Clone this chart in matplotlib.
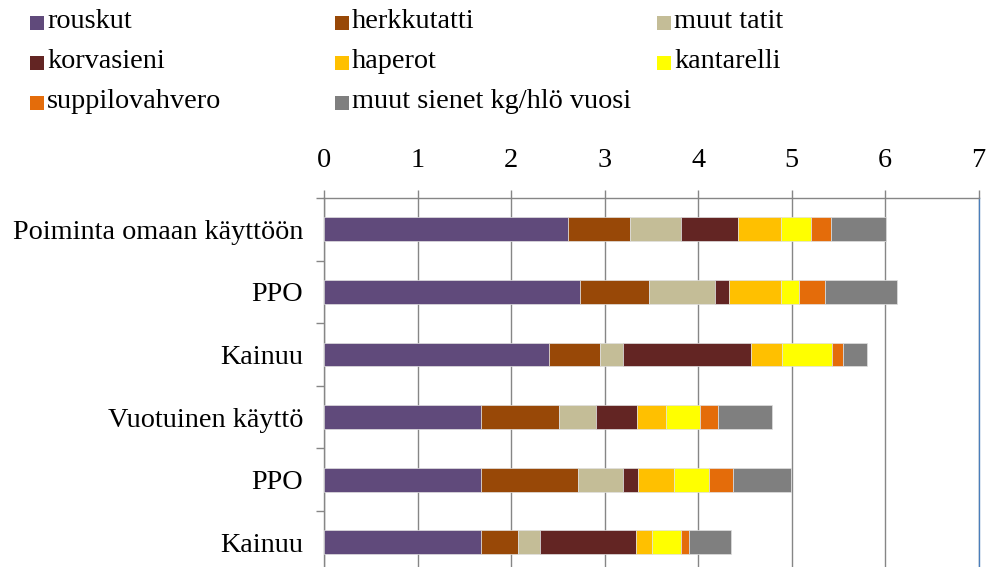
import matplotlib.pyplot as plt
from matplotlib.patches import Rectangle
import numpy as np

# categories, top to bottom
categories = ["Poiminta omaan käyttöön", "PPO", "Kainuu",
              "Vuotuinen käyttö", "PPO", "Kainuu"]

series_names = ["rouskut", "herkkutatti", "muut tatit", "korvasieni",
                "haperot", "kantarelli", "suppilovahvero",
                "muut sienet kg/hlö vuosi"]

rouskut        = [2.61, 2.74, 2.41, 1.68, 1.68, 1.68]
herkkutatti    = [0.66, 0.73, 0.54, 0.83, 1.04, 0.39]
muut_tatit     = [0.55, 0.71, 0.25, 0.40, 0.48, 0.24]
korvasieni     = [0.61, 0.15, 1.37, 0.44, 0.16, 1.03]
haperot        = [0.46, 0.56, 0.33, 0.31, 0.38, 0.17]
kantarelli     = [0.32, 0.19, 0.53, 0.36, 0.38, 0.31]
suppilovahvero = [0.21, 0.28, 0.12, 0.19, 0.25, 0.08]
muut_sienet    = [0.59, 0.77, 0.26, 0.58, 0.62, 0.45]

colors = ["#604A7B", "#984807", "#C4BD97", "#632523",
          "#FFC000", "#FFFF00", "#E46C0A", "#7F7F7F"]

data = [rouskut, herkkutatti, muut_tatit, korvasieni,
        haperot, kantarelli, suppilovahvero, muut_sienet]

plt.rcParams['font.family'] = ['Liberation Serif', 'DejaVu Serif']
FS = 20.3

W, H = 986, 567
fig = plt.figure(figsize=(W / 100, H / 100), dpi=100)
# axes placed in pixel terms, bottom runs a little past the figure
ax = fig.add_axes([324 / W, 1 - 573.6 / H, (978.7 - 324) / W, 375.6 / H])

y = np.arange(len(categories))
left = np.zeros(len(categories))
for vals, c in zip(data, colors):
    ax.barh(y, vals, left=left, height=0.38, color=c,
            edgecolor="#E0E0E0", linewidth=0.5, zorder=3)
    left += np.array(vals)

ax.set_xlim(0, 7)
ax.set_ylim(len(categories) - 0.5, -0.5)

gridc = "#868686"
ax.xaxis.tick_top()
ax.set_xticks(range(8))
ax.tick_params(axis="x", which="major", direction="out", length=6,
               color=gridc, width=1, pad=12, labelsize=FS)
ax.grid(axis="x", color=gridc, linewidth=1, zorder=0)

ax.set_yticks(y)
ax.set_yticklabels(categories)
ax.set_yticks(np.arange(-0.5, len(categories)), minor=True)
ax.tick_params(axis="y", which="major", length=0, pad=15, labelsize=FS)
ax.tick_params(axis="y", which="minor", length=6, color=gridc, width=1)

ax.spines["bottom"].set_visible(False)
ax.spines["top"].set_color(gridc)
ax.spines["left"].set_color(gridc)
ax.spines["right"].set_color("#4A7EBB")
for s in ax.spines.values():
    s.set_linewidth(1)

# legend, three columns laid out like the original
col_x = [30, 335, 657]
row_y = [22, 62, 102]
for i, (name, c) in enumerate(zip(series_names, colors)):
    cx = col_x[i % 3]
    cy = row_y[i // 3]
    fig.add_artist(Rectangle((cx / W, 1 - (cy + 8) / H), 14 / W, 14 / H,
                             facecolor=c, edgecolor="none",
                             transform=fig.transFigure))
    fig.text((cx + 17) / W, 1 - cy / H, name, fontsize=FS,
             va="center", ha="left")

fig.savefig("out.png", dpi=100)
